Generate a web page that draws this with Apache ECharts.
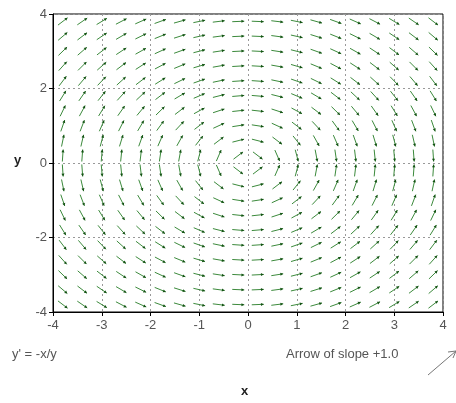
<!DOCTYPE html>
<html>
<head>
<meta charset="utf-8">
<script src="https://cdn.jsdelivr.net/npm/echarts@6/dist/echarts.min.js"></script>
<style>
  html, body { margin: 0; padding: 0; background: #fff; }
  #main { width: 456px; height: 403px; }
</style>
</head>
<body>
<div id="main"></div>
<script>
// grid of sample points for the direction field
const xPoints = [-3.8, -3.4, -3.0, -2.6, -2.2, -1.8, -1.4, -1.0, -0.6, -0.2, 0.2, 0.6, 1.0, 1.4, 1.8, 2.2, 2.6, 3.0, 3.4, 3.8]
const yPoints = [-3.8, -3.4, -3.0, -2.6, -2.2, -1.8, -1.4, -1.0, -0.6, -0.2, 0.2, 0.6, 1.0, 1.4, 1.8, 2.2, 2.6, 3.0, 3.4, 3.8]
const xTicks = [-4, -3, -2, -1, 0, 1, 2, 3, 4]
const yTicks = [-4, -2, 0, 2, 4]
const equationLabel = "y' = -x/y"
const legendLabel = 'Arrow of slope +1.0'

// slope of the field shown in the chart: y' = -x/y
const slopeAt = (x, y) => -x / y

const fieldData = []
xPoints.forEach(x => {
  yPoints.forEach(y => {
    fieldData.push([x, y, slopeAt(x, y)])
  })
})

const arrowColor = '#3c8a3c'
const headColor = '#145214'
const arrowLen = 12

const renderArrow = (params, api) => {
  const x = api.value(0)
  const y = api.value(1)
  const m = api.value(2)
  const c = api.coord([x, y])
  const unit = api.size([1, 1])
  let dx = unit[0]
  let dy = -m * unit[1]
  const n = Math.sqrt(dx * dx + dy * dy)
  dx /= n
  dy /= n
  const h = arrowLen / 2
  const x1 = c[0] - dx * h
  const y1 = c[1] - dy * h
  const x2 = c[0] + dx * h
  const y2 = c[1] + dy * h
  const a = Math.atan2(dy, dx)
  const hl = 3.2
  const hw = 0.5
  return {
    type: 'group',
    children: [
      {
        type: 'line',
        shape: { x1, y1, x2, y2 },
        style: { stroke: arrowColor, lineWidth: 1 }
      },
      {
        type: 'polygon',
        shape: {
          points: [
            [x2, y2],
            [x2 - hl * Math.cos(a - hw), y2 - hl * Math.sin(a - hw)],
            [x2 - hl * Math.cos(a + hw), y2 - hl * Math.sin(a + hw)]
          ]
        },
        style: { fill: headColor }
      }
    ]
  }
}

const chart = echarts.init(document.getElementById('main'), null, { renderer: 'canvas' })

const font = 'Liberation Sans, Arial, sans-serif'

const option = {
  animation: false,
  backgroundColor: '#fff',
  grid: {
    left: 53,
    right: 13,
    top: 14,
    bottom: 91,
    show: true,
    borderColor: '#000',
    borderWidth: 1
  },
  xAxis: {
    type: 'value',
    min: xTicks[0],
    max: xTicks[xTicks.length - 1],
    interval: 1,
    axisLine: { onZero: false, lineStyle: { color: '#000' } },
    axisTick: { show: true, length: 4, lineStyle: { color: '#000' } },
    axisLabel: { color: '#555', fontSize: 13, fontFamily: font, margin: 7 },
    splitLine: { show: true, lineStyle: { color: '#999', type: [2, 3] } }
  },
  yAxis: {
    type: 'value',
    min: yTicks[0],
    max: yTicks[yTicks.length - 1],
    interval: 2,
    axisLine: { show: true, onZero: false, lineStyle: { color: '#000' } },
    axisTick: { show: true, length: 4, lineStyle: { color: '#000' } },
    axisLabel: { color: '#555', fontSize: 13, fontFamily: font, margin: 6 },
    splitLine: { show: true, lineStyle: { color: '#999', type: [2, 3] } }
  },
  series: [
    {
      type: 'custom',
      renderItem: renderArrow,
      data: fieldData,
      silent: true
    }
  ],
  graphic: [
    {
      type: 'text',
      left: 12,
      top: 348,
      style: { text: equationLabel, fill: '#555', font: '13px ' + font }
    },
    {
      type: 'text',
      left: 286,
      top: 348,
      style: { text: legendLabel, fill: '#555', font: '13px ' + font }
    },
    {
      type: 'text',
      left: 241,
      top: 385,
      style: { text: 'x', fill: '#222', font: 'bold 13px ' + font }
    },
    {
      type: 'text',
      left: 14,
      top: 154,
      style: { text: 'y', fill: '#222', font: 'bold 13px ' + font }
    },
    {
      type: 'group',
      children: [
        {
          type: 'line',
          shape: { x1: 428, y1: 375, x2: 456, y2: 351 },
          style: { stroke: '#777', lineWidth: 1 }
        },
        {
          type: 'polyline',
          shape: { points: [[448, 352], [456, 351], [453, 358]] },
          style: { stroke: '#777', lineWidth: 1, fill: null }
        }
      ]
    }
  ]
}

chart.setOption(option)
</script>
</body>
</html>
